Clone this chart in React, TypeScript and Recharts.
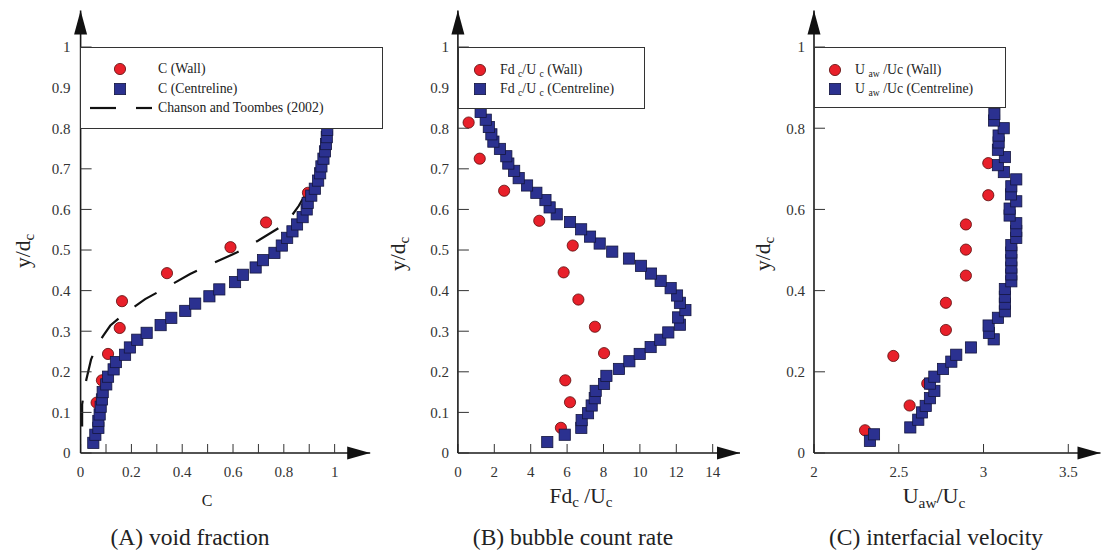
import React from 'react';
import { ComposedChart, Scatter, Line, XAxis, YAxis, ReferenceDot, Legend } from 'recharts';

const FONT = '"Liberation Serif", "DejaVu Serif", "Times New Roman", serif';

// ---------- (A) void fraction ----------
const voidWall = [
  { x: 0.063, y: 0.124 }, { x: 0.084, y: 0.179 }, { x: 0.108, y: 0.244 }, { x: 0.154, y: 0.308 },
  { x: 0.163, y: 0.374 }, { x: 0.340, y: 0.443 }, { x: 0.590, y: 0.507 }, { x: 0.730, y: 0.568 },
  { x: 0.895, y: 0.641 },
];
const voidCentre = [
  { x: 0.050, y: 0.025 }, { x: 0.058, y: 0.045 }, { x: 0.070, y: 0.062 }, { x: 0.070, y: 0.079 },
  { x: 0.075, y: 0.095 }, { x: 0.079, y: 0.114 }, { x: 0.084, y: 0.132 }, { x: 0.087, y: 0.150 },
  { x: 0.101, y: 0.169 }, { x: 0.108, y: 0.188 }, { x: 0.130, y: 0.206 }, { x: 0.139, y: 0.224 },
  { x: 0.175, y: 0.242 }, { x: 0.194, y: 0.260 }, { x: 0.223, y: 0.279 }, { x: 0.260, y: 0.296 },
  { x: 0.315, y: 0.315 }, { x: 0.357, y: 0.333 }, { x: 0.412, y: 0.350 }, { x: 0.451, y: 0.368 },
  { x: 0.507, y: 0.386 }, { x: 0.546, y: 0.403 }, { x: 0.608, y: 0.421 }, { x: 0.639, y: 0.439 },
  { x: 0.689, y: 0.457 }, { x: 0.718, y: 0.475 }, { x: 0.763, y: 0.493 }, { x: 0.792, y: 0.511 },
  { x: 0.813, y: 0.530 }, { x: 0.834, y: 0.546 }, { x: 0.852, y: 0.563 }, { x: 0.874, y: 0.581 },
  { x: 0.890, y: 0.600 }, { x: 0.894, y: 0.616 }, { x: 0.908, y: 0.634 }, { x: 0.922, y: 0.651 },
  { x: 0.935, y: 0.671 }, { x: 0.943, y: 0.689 }, { x: 0.948, y: 0.706 }, { x: 0.956, y: 0.725 },
  { x: 0.962, y: 0.743 }, { x: 0.966, y: 0.761 }, { x: 0.969, y: 0.778 }, { x: 0.971, y: 0.796 },
];
const chansonToombes = [
  { x: 0.006, y: 0.065 }, { x: 0.006, y: 0.12 }, { x: 0.014, y: 0.15 }, { x: 0.022, y: 0.179 },
  { x: 0.041, y: 0.23 }, { x: 0.062, y: 0.262 }, { x: 0.088, y: 0.288 }, { x: 0.117, y: 0.314 },
  { x: 0.16, y: 0.337 }, { x: 0.254, y: 0.379 }, { x: 0.341, y: 0.409 }, { x: 0.431, y: 0.441 },
  { x: 0.52, y: 0.467 }, { x: 0.612, y: 0.493 }, { x: 0.698, y: 0.523 }, { x: 0.79, y: 0.558 },
  { x: 0.819, y: 0.574 }, { x: 0.859, y: 0.609 }, { x: 0.88, y: 0.632 },
];
const ticksA_x = [0, 0.1, 0.2, 0.3, 0.4, 0.5, 0.6, 0.7, 0.8, 0.9, 1];
const ticksA_y = [0, 0.1, 0.2, 0.3, 0.4, 0.5, 0.6, 0.7, 0.8, 0.9, 1];

// ---------- (B) bubble count rate ----------
const countWall = [
  { x: 0.59, y: 0.814 }, { x: 1.20, y: 0.725 }, { x: 2.54, y: 0.646 }, { x: 4.47, y: 0.572 },
  { x: 6.31, y: 0.511 }, { x: 5.81, y: 0.445 }, { x: 6.62, y: 0.378 }, { x: 7.53, y: 0.311 },
  { x: 8.03, y: 0.246 }, { x: 5.90, y: 0.179 }, { x: 6.16, y: 0.125 }, { x: 5.66, y: 0.062 },
];
const countCentre = [
  { x: 4.91, y: 0.027 }, { x: 5.87, y: 0.045 }, { x: 6.78, y: 0.062 }, { x: 6.80, y: 0.081 },
  { x: 7.15, y: 0.098 }, { x: 7.35, y: 0.117 }, { x: 7.52, y: 0.135 }, { x: 7.57, y: 0.153 },
  { x: 8.03, y: 0.170 }, { x: 8.16, y: 0.190 }, { x: 8.85, y: 0.207 }, { x: 9.42, y: 0.226 },
  { x: 9.99, y: 0.244 }, { x: 10.59, y: 0.261 }, { x: 11.12, y: 0.279 }, { x: 11.56, y: 0.297 },
  { x: 12.20, y: 0.316 }, { x: 12.10, y: 0.334 }, { x: 12.50, y: 0.352 }, { x: 12.20, y: 0.370 },
  { x: 12.04, y: 0.388 }, { x: 11.69, y: 0.406 }, { x: 11.14, y: 0.424 }, { x: 10.61, y: 0.442 },
  { x: 10.06, y: 0.461 }, { x: 9.40, y: 0.479 }, { x: 8.48, y: 0.496 }, { x: 7.79, y: 0.516 },
  { x: 7.26, y: 0.533 }, { x: 6.77, y: 0.551 }, { x: 6.16, y: 0.569 }, { x: 5.43, y: 0.588 },
  { x: 5.04, y: 0.605 }, { x: 4.81, y: 0.623 }, { x: 4.31, y: 0.641 }, { x: 3.80, y: 0.659 },
  { x: 3.34, y: 0.677 }, { x: 3.09, y: 0.695 }, { x: 2.77, y: 0.713 }, { x: 2.66, y: 0.731 },
  { x: 2.31, y: 0.749 }, { x: 1.95, y: 0.767 }, { x: 1.84, y: 0.785 }, { x: 1.70, y: 0.803 },
  { x: 1.53, y: 0.821 }, { x: 1.25, y: 0.840 },
];
const ticksB_x = [0, 2, 4, 6, 8, 10, 12, 14];
const ticksB_y = [0, 0.1, 0.2, 0.3, 0.4, 0.5, 0.6, 0.7, 0.8, 0.9, 1];

// ---------- (C) interfacial velocity ----------
const velWall = [
  { x: 2.301, y: 0.056 }, { x: 2.564, y: 0.117 }, { x: 2.668, y: 0.171 }, { x: 2.468, y: 0.239 },
  { x: 2.778, y: 0.303 }, { x: 2.778, y: 0.370 }, { x: 2.896, y: 0.437 }, { x: 2.896, y: 0.501 },
  { x: 2.896, y: 0.563 }, { x: 3.028, y: 0.635 }, { x: 3.028, y: 0.714 },
];
const velCentre = [
  { x: 2.330, y: 0.030 }, { x: 2.354, y: 0.046 }, { x: 2.568, y: 0.063 }, { x: 2.615, y: 0.082 },
  { x: 2.637, y: 0.100 }, { x: 2.659, y: 0.116 }, { x: 2.684, y: 0.135 }, { x: 2.710, y: 0.153 },
  { x: 2.684, y: 0.171 }, { x: 2.710, y: 0.188 }, { x: 2.761, y: 0.207 }, { x: 2.810, y: 0.225 },
  { x: 2.839, y: 0.242 }, { x: 2.926, y: 0.260 }, { x: 3.060, y: 0.280 }, { x: 3.032, y: 0.296 },
  { x: 3.030, y: 0.314 }, { x: 3.085, y: 0.333 }, { x: 3.126, y: 0.349 }, { x: 3.126, y: 0.368 },
  { x: 3.126, y: 0.385 }, { x: 3.126, y: 0.404 }, { x: 3.164, y: 0.423 }, { x: 3.164, y: 0.440 },
  { x: 3.164, y: 0.457 }, { x: 3.164, y: 0.475 }, { x: 3.164, y: 0.494 }, { x: 3.164, y: 0.512 },
  { x: 3.193, y: 0.530 }, { x: 3.193, y: 0.547 }, { x: 3.193, y: 0.566 }, { x: 3.154, y: 0.585 },
  { x: 3.154, y: 0.602 }, { x: 3.193, y: 0.620 }, { x: 3.162, y: 0.637 }, { x: 3.164, y: 0.657 },
  { x: 3.193, y: 0.674 }, { x: 3.120, y: 0.692 }, { x: 3.085, y: 0.709 }, { x: 3.126, y: 0.729 },
  { x: 3.085, y: 0.747 }, { x: 3.089, y: 0.765 }, { x: 3.089, y: 0.782 }, { x: 3.119, y: 0.800 },
  { x: 3.062, y: 0.819 }, { x: 3.064, y: 0.835 },
];
const ticksC_x = [2, 2.5, 3, 3.5];
const ticksC_y = [0, 0.2, 0.4, 0.6, 0.8, 1];

// ---------- styling helpers ----------
const RED = '#E8202A';
const BLUE = '#2B3190';
const R = 5.6;

const CircleMark = (p: any) => (
  <circle cx={p.cx} cy={p.cy} r={R} fill={RED} stroke="#5a0a0a" strokeWidth={0.8} />
);
const SquareMark = (p: any) => (
  <rect x={p.cx - R} y={p.cy - R} width={2 * R} height={2 * R} fill={BLUE} stroke="#14163f" strokeWidth={0.8} />
);

const ArrowRight = (p: any) => (
  <path d={`M${p.cx},${p.cy} L${p.cx - 23},${p.cy - 6.5} L${p.cx - 23},${p.cy + 6.5} Z`} fill="#111" />
);
const ArrowUp = (p: any) => (
  <path d={`M${p.cx},${p.cy} L${p.cx - 6.5},${p.cy + 24} L${p.cx + 6.5},${p.cy + 24} Z`} fill="#111" />
);

const tickStyle = { fontSize: 15, fill: '#333', fontFamily: FONT };
const axisLine = { stroke: '#1a1a1a', strokeWidth: 1.6 };
const tickLine = { stroke: '#333', strokeWidth: 1 };

const fmtA = (v: number) => {
  const k = Math.round(v * 10);
  if (k % 2 !== 0) return '';
  return String(k / 10);
};

const Sub = ({ children, size = '0.7em' }: any) => (
  <span style={{ fontSize: size, verticalAlign: '-0.3em' }}>{children}</span>
);

const boxStyle: React.CSSProperties = {
  position: 'relative',
  width: '100%',
  height: '100%',
  boxSizing: 'border-box',
  border: '1px solid #333',
  background: '#fff',
  fontFamily: FONT,
  fontSize: 13.8,
  color: '#222',
};

const Row = ({ top, left, children }: any) => (
  <div style={{ position: 'absolute', top: top - 9, left, whiteSpace: 'nowrap', lineHeight: '18px' }}>{children}</div>
);

const MarkerSvg = ({ cx, cy, kind }: any) => (
  <svg style={{ position: 'absolute', left: cx - 8, top: cy - 8 }} width={16} height={16}>
    {kind === 'circle' ? (
      <circle cx={8} cy={8} r={R} fill={RED} stroke="#5a0a0a" strokeWidth={0.8} />
    ) : (
      <rect x={8 - R} y={8 - R} width={2 * R} height={2 * R} fill={BLUE} stroke="#14163f" strokeWidth={0.8} />
    )}
  </svg>
);

const LegendA = () => (
  <div style={boxStyle}>
    <MarkerSvg cx={39} cy={21} kind="circle" />
    <MarkerSvg cx={39} cy={41} kind="square" />
    <svg style={{ position: 'absolute', left: 9, top: 55 }} width={64} height={10}>
      <line x1={0} y1={5} x2={26} y2={5} stroke="#111" strokeWidth={2.2} />
      <line x1={46} y1={5} x2={62} y2={5} stroke="#111" strokeWidth={2.2} />
    </svg>
    <Row top={21} left={77}>C (Wall)</Row>
    <Row top={41} left={77}>C (Centreline)</Row>
    <Row top={60} left={77}>Chanson and Toombes (2002)</Row>
  </div>
);

const LegendB = () => (
  <div style={boxStyle}>
    <MarkerSvg cx={21} cy={22} kind="circle" />
    <MarkerSvg cx={21} cy={41} kind="square" />
    <Row top={22} left={41}>Fd <Sub>c</Sub>/U <Sub>c</Sub> (Wall)</Row>
    <Row top={41} left={41}>Fd <Sub>c</Sub>/U <Sub>c</Sub> (Centreline)</Row>
  </div>
);

const LegendC = () => (
  <div style={boxStyle}>
    <MarkerSvg cx={20} cy={22} kind="circle" />
    <MarkerSvg cx={20} cy={41} kind="square" />
    <Row top={22} left={40}>U <Sub>aw</Sub> /Uc (Wall)</Row>
    <Row top={41} left={40}>U <Sub>aw</Sub> /Uc (Centreline)</Row>
  </div>
);

const Y_TOP = 1.09;
const PLOT_TOP = 10.5;
const X_AXIS_H = 40;
const Y_AXIS_W = 60;
const PLOT_BOTTOM_MARGIN = 552 - 453 - X_AXIS_H;

const textAbs = (left: number, top: number, size: number, extra: React.CSSProperties = {}): React.CSSProperties => ({
  position: 'absolute',
  left,
  top,
  transform: 'translate(-50%, -50%)',
  fontFamily: FONT,
  fontSize: size,
  color: '#222',
  whiteSpace: 'nowrap',
  lineHeight: 1,
  ...extra,
});

export default function App() {
  return (
    <div style={{ position: 'absolute', left: 0, top: 0, width: 1102, height: 552, background: '#fff', overflow: 'hidden' }}>
      {/* Panel A */}
      <div style={{ position: 'absolute', left: 0, top: 0 }}>
        <ComposedChart
          width={390}
          height={552}
          margin={{ top: PLOT_TOP, left: 80.6 - Y_AXIS_W, right: 390 - 370.2, bottom: PLOT_BOTTOM_MARGIN }}
        >
          <XAxis
            type="number"
            dataKey="x"
            domain={[0, 1.14]}
            ticks={ticksA_x}
            interval={0}
            tickFormatter={fmtA}
            tickSize={-9}
            tickMargin={22}
            height={X_AXIS_H}
            axisLine={axisLine}
            tickLine={tickLine}
            tick={tickStyle}
            allowDataOverflow
          />
          <YAxis
            type="number"
            dataKey="y"
            domain={[0, Y_TOP]}
            ticks={ticksA_y}
            interval={0}
            tickSize={-11}
            tickMargin={21}
            width={Y_AXIS_W}
            axisLine={axisLine}
            tickLine={tickLine}
            tick={tickStyle}
            allowDataOverflow
          />
          <Line
            data={chansonToombes}
            dataKey="y"
            type="linear"
            stroke="#111"
            strokeWidth={2.2}
            strokeDasharray="26 20"
            dot={false}
            isAnimationActive={false}
            legendType="none"
          />
          <Scatter data={voidWall} dataKey="y" shape={CircleMark} isAnimationActive={false} />
          <Scatter data={voidCentre} dataKey="y" shape={SquareMark} isAnimationActive={false} />
          <ReferenceDot x={1.14} y={0} ifOverflow="visible" shape={ArrowRight} />
          <ReferenceDot x={0} y={Y_TOP} ifOverflow="visible" shape={ArrowUp} />
          <Legend
            layout="horizontal"
            verticalAlign="middle"
            align="center"
            width={303}
            height={82}
            wrapperStyle={{ left: 80, top: 47, width: 303, height: 82 }}
            content={() => <LegendA />}
          />
        </ComposedChart>
      </div>

      {/* Panel B */}
      <div style={{ position: 'absolute', left: 383, top: 0 }}>
        <ComposedChart
          width={367}
          height={552}
          margin={{ top: PLOT_TOP, left: 74.9 - Y_AXIS_W, right: 10, bottom: PLOT_BOTTOM_MARGIN }}
        >
          <XAxis
            type="number"
            dataKey="x"
            domain={[0, 15.5]}
            ticks={ticksB_x}
            interval={0}
            tickSize={-9}
            tickMargin={22}
            height={X_AXIS_H}
            axisLine={axisLine}
            tickLine={tickLine}
            tick={tickStyle}
            allowDataOverflow
          />
          <YAxis
            type="number"
            dataKey="y"
            domain={[0, Y_TOP]}
            ticks={ticksB_y}
            interval={0}
            tickSize={-11}
            tickMargin={20}
            width={Y_AXIS_W}
            axisLine={axisLine}
            tickLine={tickLine}
            tick={tickStyle}
            allowDataOverflow
          />
          <Scatter data={countWall} dataKey="y" shape={CircleMark} isAnimationActive={false} />
          <Scatter data={countCentre} dataKey="y" shape={SquareMark} isAnimationActive={false} />
          <ReferenceDot x={15.5} y={0} ifOverflow="visible" shape={ArrowRight} />
          <ReferenceDot x={0} y={Y_TOP} ifOverflow="visible" shape={ArrowUp} />
          <Legend
            layout="horizontal"
            verticalAlign="middle"
            align="center"
            width={187}
            height={62}
            wrapperStyle={{ left: 75, top: 47, width: 187, height: 62 }}
            content={() => <LegendB />}
          />
        </ComposedChart>
      </div>

      {/* Panel C */}
      <div style={{ position: 'absolute', left: 750, top: 0 }}>
        <ComposedChart
          width={352}
          height={552}
          margin={{ top: PLOT_TOP, left: 64 - Y_AXIS_W, right: 1.5, bottom: PLOT_BOTTOM_MARGIN }}
        >
          <XAxis
            type="number"
            dataKey="x"
            domain={[2, 3.69]}
            ticks={ticksC_x}
            interval={0}
            tickSize={-9}
            tickMargin={22}
            height={X_AXIS_H}
            axisLine={axisLine}
            tickLine={tickLine}
            tick={tickStyle}
            allowDataOverflow
          />
          <YAxis
            type="number"
            dataKey="y"
            domain={[0, Y_TOP]}
            ticks={ticksC_y}
            interval={0}
            tickSize={-11}
            tickMargin={20}
            width={Y_AXIS_W}
            axisLine={axisLine}
            tickLine={tickLine}
            tick={tickStyle}
            allowDataOverflow
          />
          <Scatter data={velWall} dataKey="y" shape={CircleMark} isAnimationActive={false} />
          <Scatter data={velCentre} dataKey="y" shape={SquareMark} isAnimationActive={false} />
          <ReferenceDot x={3.69} y={0} ifOverflow="visible" shape={ArrowRight} />
          <ReferenceDot x={2} y={Y_TOP} ifOverflow="visible" shape={ArrowUp} />
          <Legend
            layout="horizontal"
            verticalAlign="middle"
            align="center"
            width={192}
            height={61}
            wrapperStyle={{ left: 64, top: 47, width: 192, height: 61 }}
            content={() => <LegendC />}
          />
        </ComposedChart>
      </div>

      {/* Axis titles */}
      <div style={textAbs(25, 251, 21.5, { transform: 'translate(-50%, -50%) rotate(-90deg)' })}>
        y/d<Sub>c</Sub>
      </div>
      <div style={textAbs(400, 254, 21.5, { transform: 'translate(-50%, -50%) rotate(-90deg)' })}>
        y/d<Sub>c</Sub>
      </div>
      <div style={textAbs(765, 254, 21.5, { transform: 'translate(-50%, -50%) rotate(-90deg)' })}>
        y/d<Sub>c</Sub>
      </div>
      <div style={textAbs(207, 501, 16)}>C</div>
      <div style={textAbs(581, 498, 21.5)}>
        Fd<Sub>c</Sub> /U<Sub>c</Sub>
      </div>
      <div style={textAbs(934, 498, 22)}>
        U<Sub>aw</Sub>/U<Sub>c</Sub>
      </div>

      {/* Captions */}
      <div style={textAbs(190, 538, 23.5)}>(A) void fraction</div>
      <div style={textAbs(573, 538, 23.5)}>(B) bubble count rate</div>
      <div style={textAbs(936, 538, 23.5)}>(C) interfacial velocity</div>
    </div>
  );
}
